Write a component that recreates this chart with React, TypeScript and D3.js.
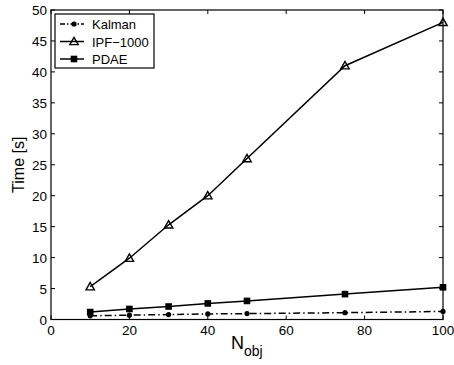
import React from "react";
import * as d3 from "d3";

const nObj = [10, 20, 30, 40, 50, 75, 100];
const kalman = [0.6, 0.7, 0.8, 0.9, 0.95, 1.1, 1.3];
const ipf1000 = [5.3, 9.9, 15.3, 20, 26, 41, 48];
const pdae = [1.2, 1.7, 2.1, 2.6, 3.0, 4.1, 5.2];
const xTicks = [0, 20, 40, 60, 80, 100];
const yTicks = [0, 5, 10, 15, 20, 25, 30, 35, 40, 45, 50];
const seriesNames = ["Kalman", "IPF\u22121000", "PDAE"];

const W = 454, H = 365;
const m = { left: 51, right: 11, top: 10, bottom: 45.5 };
const font = "'Liberation Sans', Arial, Helvetica, sans-serif";

export default function App() {
  const x = d3.scaleLinear().domain([0, 100]).range([m.left, W - m.right]);
  const y = d3.scaleLinear().domain([0, 50]).range([H - m.bottom, m.top]);
  const line = d3.line<number>().x((_, i) => x(nObj[i])).y((v) => y(v));
  const tk = 4;
  const x0 = x(0), x1 = x(100), y0 = y(0), y1 = y(50);

  const tri = (cx: number, cy: number, s = 4.2) =>
    `M${cx},${cy - s} L${cx + s},${cy + s * 0.75} L${cx - s},${cy + s * 0.75} Z`;

  const marker = (k: number, cx: number, cy: number, key: any) => {
    if (k === 0) return <circle key={key} cx={cx} cy={cy} r={2.6} fill="#000" />;
    if (k === 1) return <path key={key} d={tri(cx, cy)} fill="none" stroke="#000" strokeWidth={1.4} />;
    return <rect key={key} x={cx - 3.3} y={cy - 3.3} width={6.6} height={6.6} fill="#000" />;
  };

  const series = [kalman, ipf1000, pdae];
  const dashes = ["7,3,1.5,3", undefined, undefined];

  const lx = 55, ly = 14, lw = 99, lh = 54;

  return (
    <svg width={W} height={H} style={{ position: "absolute", left: 0, top: 0, background: "#fff" }}>
      <rect x={0} y={0} width={W} height={H} fill="#fff" />
      {/* ticks */}
      {xTicks.map((t) => (
        <g key={"xt" + t}>
          <line x1={x(t)} x2={x(t)} y1={y0} y2={y0 - tk} stroke="#000" />
          <line x1={x(t)} x2={x(t)} y1={y1} y2={y1 + tk} stroke="#000" />
          <text x={x(t)} y={y0 + 15.5} textAnchor="middle" fontFamily={font} fontSize={13.5}>{t}</text>
        </g>
      ))}
      {yTicks.map((t) => (
        <g key={"yt" + t}>
          <line x1={x0} x2={x0 + tk} y1={y(t)} y2={y(t)} stroke="#000" />
          <line x1={x1} x2={x1 - tk} y1={y(t)} y2={y(t)} stroke="#000" />
          <text x={x0 - 4} y={y(t) + 5} textAnchor="end" fontFamily={font} fontSize={13.5}>{t}</text>
        </g>
      ))}
      <rect x={x0} y={y1} width={x1 - x0} height={y0 - y1} fill="none" stroke="#000" strokeWidth={1.2} />
      {/* series */}
      {series.map((s, k) => (
        <g key={"s" + k}>
          <path d={line(s) || ""} fill="none" stroke="#000" strokeWidth={1.5} strokeDasharray={dashes[k]} />
          {s.map((v, i) => marker(k, x(nObj[i]), y(v), i))}
        </g>
      ))}
      {/* legend */}
      <rect x={lx} y={ly} width={lw} height={lh} fill="#fff" stroke="#000" strokeWidth={1.2} />
      {seriesNames.map((n, k) => {
        const yy = ly + 10 + k * 17.5;
        return (
          <g key={"l" + k}>
            <line x1={lx + 5} x2={lx + 29} y1={yy} y2={yy} stroke="#000" strokeWidth={1.5} strokeDasharray={dashes[k] ? "5,2,1.5,2" : undefined} />
            {marker(k, lx + 19, yy, "m")}
            <text x={lx + 37} y={yy + 5} fontFamily={font} fontSize={13}>{n}</text>
          </g>
        );
      })}
      {/* axis titles */}
      <text transform={`translate(24,${(y0 + y1) / 2}) rotate(-90)`} textAnchor="middle" fontFamily={font} fontSize={16}>Time [s]</text>
      <text x={231} y={y0 + 29} fontFamily={font} fontSize={18}>
        N<tspan fontSize={14} dy={7}>obj</tspan>
      </text>
    </svg>
  );
}
